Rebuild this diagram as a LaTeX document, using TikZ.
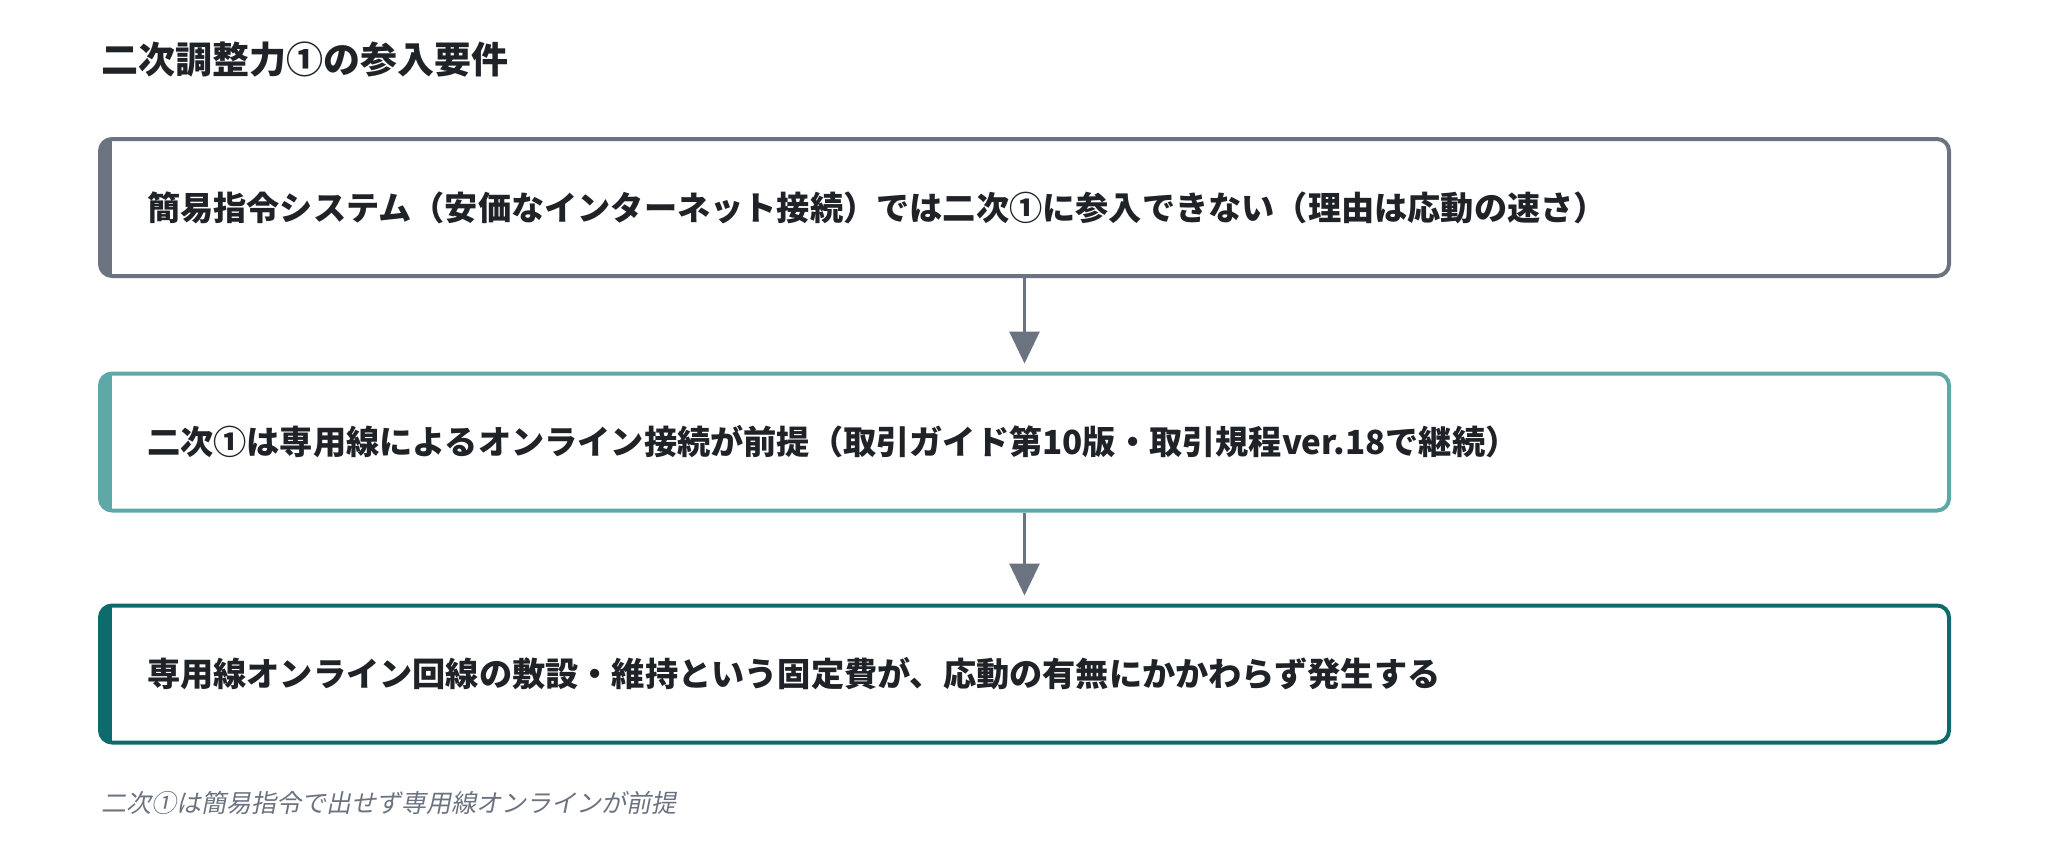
\documentclass[tikz,border=0pt]{standalone}
\usepackage{fontspec}
\setmainfont{Noto Sans CJK JP}
\newfontfamily\notefont{Noto Sans CJK JP}[FakeSlant=0.2]
\usetikzlibrary{arrows.meta}
\definecolor{slate}{HTML}{6B7280}
\definecolor{teallight}{HTML}{5FA8A8}
\definecolor{tealdark}{HTML}{0E6B6B}
\definecolor{ink}{HTML}{1F2328}

\begin{document}
\begin{tikzpicture}[x=1pt,y=-1pt,
    reqbox/.style={draw=#1,fill=white,line width=4pt,rounded corners=12pt,
        minimum width=1849pt,minimum height=137pt,inner xsep=47pt,text width=1755pt,align=left,
        text=ink,font=\bfseries\fontsize{33.2}{40}\selectfont,
        path picture={\fill[#1,sharp corners] (path picture bounding box.north west) rectangle ([xshift=12pt]path picture bounding box.south west);}},
    flow/.style={-{Triangle[width=30pt,length=32pt]},draw=slate,line width=3pt,shorten >=8pt},
    heading/.style={anchor=west,inner sep=0pt,text=ink,font=\bfseries\fontsize{37}{44}\selectfont},
    note/.style={anchor=west,inner sep=0pt,text=slate,font=\notefont\fontsize{25}{30}\selectfont}]
        \useasboundingbox (0,0) rectangle (2050,843);
        \node[heading] (title) at (101,60) {二次調整力①の参入要件};
        \foreach \n/\y/\c/\t in {reqA/207.5/slate/{簡易指令システム（安価なインターネット接続）では二次①に参入できない（理由は応動の速さ）},
                reqB/442/teallight/{二次①は専用線によるオンライン接続が前提（取引ガイド第10版・取引規程ver.18で継続）},
                reqC/674/tealdark/{専用線オンライン回線の敷設・維持という固定費が、応動の有無にかかわらず発生する}}{
            \node[reqbox=\c] (\n) at (1024.5,\y) {\t};
        };
        \draw[flow] (reqA) -- (reqB);
        \draw[flow] (reqB) -- (reqC);
        \node[note] (caption) at (101,803) {二次①は簡易指令で出せず専用線オンラインが前提};
    \end{tikzpicture}
\end{document}
